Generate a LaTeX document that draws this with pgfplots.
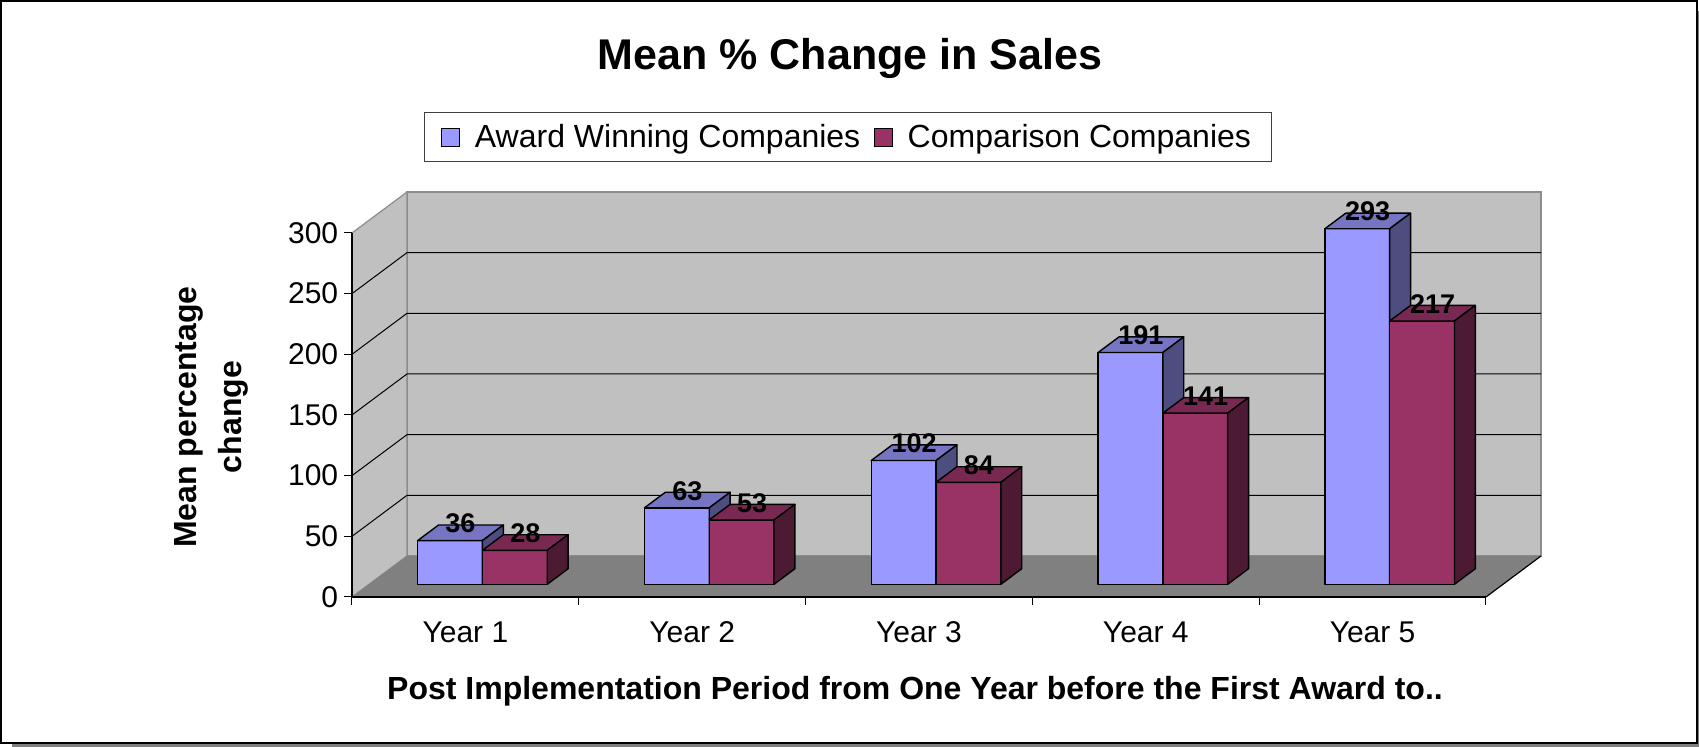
\documentclass[border=0pt]{standalone}
\usepackage{fontspec}
\setmainfont{Liberation Sans}
\usepackage{pgfplots}
\pgfplotsset{compat=1.18}

\definecolor{awF}{RGB}{153,153,255}
\definecolor{awT}{RGB}{117,117,193}
\definecolor{awS}{RGB}{77,77,128}
\definecolor{cpF}{RGB}{153,51,102}
\definecolor{cpT}{RGB}{120,40,81}
\definecolor{cpS}{RGB}{77,26,51}
\definecolor{wallc}{RGB}{192,192,192}
\definecolor{floorc}{RGB}{128,128,128}
\definecolor{edgec}{RGB}{140,140,140}

% #1 x left, #2 x right, #3 x centre, #4 value, #5 front, #6 top, #7 side
\newcommand{\drawbar}[7]{%
  \addplot3[fill=#5, draw=black, line width=0.7pt, line join=round] coordinates {(#1,0.31,0) (#2,0.31,0) (#2,0.31,#4) (#1,0.31,#4)} -- cycle;
  \addplot3[fill=#6, draw=black, line width=0.7pt, line join=round] coordinates {(#1,0.31,#4) (#2,0.31,#4) (#2,0.69,#4) (#1,0.69,#4)} -- cycle;
  \addplot3[fill=#7, draw=black, line width=0.7pt, line join=round] coordinates {(#2,0.31,0) (#2,0.69,0) (#2,0.69,#4) (#2,0.31,#4)} -- cycle;
  \node[anchor=base, inner sep=0pt, font=\bfseries\fontsize{13.5}{15}\selectfont] at (axis cs:#3,0.5,#4) {#4};
}

\begin{document}
\begin{tikzpicture}
\useasboundingbox (-176pt,-75pt) rectangle (673.5pt,298.5pt);

% ---------- 3D part: walls, floor, bars ----------
\begin{axis}[
  at={(0pt,0pt)}, anchor=south west,
  x={(113.4pt,0pt)}, y={(27.5pt,20.5pt)}, z={(0pt,0.606667pt)},
  xmin=0.5, xmax=5.5, ymin=0, ymax=1, zmin=0, zmax=300,
  hide axis, clip=false,
]
% back wall
\addplot3[fill=wallc, draw=edgec, line width=0.6pt] coordinates {(0.5,1,0) (5.5,1,0) (5.5,1,300) (0.5,1,300)} -- cycle;
% side wall
\addplot3[fill=wallc, draw=edgec, line width=0.6pt] coordinates {(0.5,0,0) (0.5,1,0) (0.5,1,300) (0.5,0,300)} -- cycle;
% floor
\addplot3[fill=floorc, draw=none] coordinates {(0.5,0,0) (5.5,0,0) (5.5,1,0) (0.5,1,0)} -- cycle;
\addplot3[black, line width=0.6pt] coordinates {(5.5,0,0) (5.5,1,0)};
% gridlines
\addplot3[black, line width=0.5pt] coordinates {(0.5,0,50) (0.5,1,50) (5.5,1,50)};
\addplot3[black, line width=0.5pt] coordinates {(0.5,0,100) (0.5,1,100) (5.5,1,100)};
\addplot3[black, line width=0.5pt] coordinates {(0.5,0,150) (0.5,1,150) (5.5,1,150)};
\addplot3[black, line width=0.5pt] coordinates {(0.5,0,200) (0.5,1,200) (5.5,1,200)};
\addplot3[black, line width=0.5pt] coordinates {(0.5,0,250) (0.5,1,250) (5.5,1,250)};
% bars: Award Winning Companies / Comparison Companies
\drawbar{0.7143}{1}{0.857}{36}{awF}{awT}{awS}
\drawbar{1}{1.2857}{1.143}{28}{cpF}{cpT}{cpS}
\drawbar{1.7143}{2}{1.857}{63}{awF}{awT}{awS}
\drawbar{2}{2.2857}{2.143}{53}{cpF}{cpT}{cpS}
\drawbar{2.7143}{3}{2.857}{102}{awF}{awT}{awS}
\drawbar{3}{3.2857}{3.143}{84}{cpF}{cpT}{cpS}
\drawbar{3.7143}{4}{3.857}{191}{awF}{awT}{awS}
\drawbar{4}{4.2857}{4.143}{141}{cpF}{cpT}{cpS}
\drawbar{4.7143}{5}{4.857}{293}{awF}{awT}{awS}
\drawbar{5}{5.2857}{5.143}{217}{cpF}{cpT}{cpS}
\end{axis}

% ---------- 2D overlay: axes, ticks, labels, title, legend ----------
\begin{axis}[
  at={(0pt,0pt)}, anchor=south west,
  scale only axis, width=567pt, height=182pt,
  xmin=0.5, xmax=5.5, ymin=0, ymax=300,
  axis x line*=bottom, axis y line*=left,
  axis line style={black, line width=0.6pt},
  xtick={0.5,1.5,2.5,3.5,4.5,5.5},
  x tick label as interval,
  xticklabels={Year 1,Year 2,Year 3,Year 4,Year 5},
  ytick={0,50,100,150,200,250,300},
  tick align=outside,
  major tick length=4pt,
  tick style={black, line width=0.5pt},
  /pgf/number format/assume math mode=true,
  tick label style={font=\fontsize{15}{18}\selectfont},
  yticklabel style={xshift=0.6pt},
  xticklabel style={anchor=base, yshift=-18.8pt},
  xlabel={Post Implementation Period from One Year before the First Award to..},
  xlabel style={at={(axis description cs:0.4965,-0.2813)}, anchor=base, font=\bfseries\fontsize{16}{19}\selectfont},
  ylabel={Mean percentage\\change},
  ylabel style={at={(axis description cs:-0.1240,0.4945)}, anchor=center, align=center, font=\bfseries\fontsize{16}{22.5}\selectfont},
  title={Mean \% Change in Sales},
  every axis title/.style={at={(axis description cs:0.4392,1.450)}, anchor=base, font=\bfseries\fontsize{21.5}{25}\selectfont},
  legend columns=2,
  legend style={at={(axis description cs:0.4374,1.2632)}, anchor=center, draw=black!75, line width=0.5pt, fill=white,
    font=\fontsize{16}{19}\selectfont, inner xsep=8pt, inner ysep=3.8pt,
    nodes={inner ysep=2pt},
    /tikz/every odd column/.append style={column sep=5.5pt},
    /tikz/every even column/.append style={column sep=4.7pt}},
  legend image code/.code={\draw[#1] (0pt,-4.5pt) rectangle (9pt,4.5pt);},
]
\addlegendimage{fill=awF, draw=black, line width=0.5pt}
\addlegendentry{Award Winning Companies}
\addlegendimage{fill=cpF, draw=black, line width=0.5pt}
\addlegendentry{Comparison Companies}
\end{axis}

% outer chart frame with shadow
\fill[gray] (-170pt,-75pt) rectangle (673.5pt,-73.5pt);
\fill[gray] (672.8pt,-75pt) rectangle (673.5pt,293pt);
\draw[black, line width=1pt] (-175.6pt,298.1pt) rectangle (672.5pt,-73pt);
\end{tikzpicture}
\end{document}
